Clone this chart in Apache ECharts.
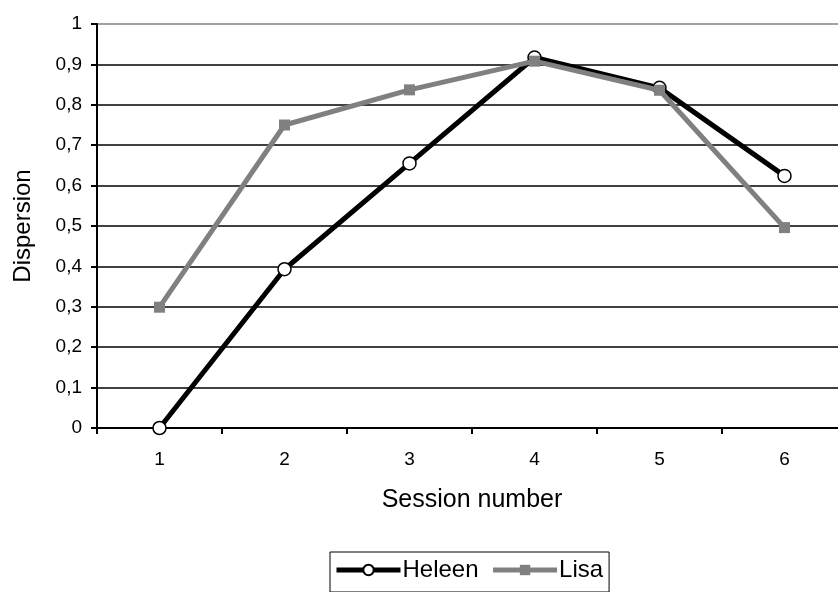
<!DOCTYPE html>
<html>
<head>
<meta charset="utf-8">
<script src="https://cdn.jsdelivr.net/npm/echarts@6/dist/echarts.min.js"></script>
<style>
html,body{margin:0;padding:0;background:#fff;}
#chart{width:838px;height:592px;}
</style>
</head>
<body>
<div id="chart"></div>
<script>
const categories = ['1', '2', '3', '4', '5', '6'];
const heleen = [0.0, 0.393, 0.655, 0.917, 0.842, 0.624];
const lisa = [0.299, 0.75, 0.837, 0.908, 0.836, 0.496];
const seriesNames = ['Heleen', 'Lisa'];
const xTitle = 'Session number';
const yTitle = 'Dispersion';

const FONT = 'Liberation Sans, Arial, sans-serif';
const splitColors = ['#000','#000','#000','#000','#000','#000','#000','#000','#000','#000','#808080'];

const chart = echarts.init(document.getElementById('chart'));
chart.setOption({
  animation: false,
  backgroundColor: '#fff',
  textStyle: { fontFamily: FONT },
  grid: { left: 97, top: 24, right: -9, height: 404, outerBoundsMode: 'none', containLabel: false },
  legend: {
    data: seriesNames,
    left: 330,
    top: 552,
    orient: 'horizontal',
    padding: [6, 6, 10, 4],
    itemGap: 12,
    itemWidth: 64,
    itemHeight: 13,
    borderColor: '#000',
    borderWidth: 1,
    lineStyle: { width: 5 },
    textStyle: { fontFamily: FONT, fontSize: 24, color: '#000', padding: [0, 0, 0, -3] }
  },
  xAxis: {
    type: 'category',
    data: categories,
    boundaryGap: true,
    name: xTitle,
    nameLocation: 'middle',
    nameGap: 60,
    nameTextStyle: { fontFamily: FONT, fontSize: 25, color: '#000' },
    axisLine: { lineStyle: { color: '#000', width: 2 } },
    axisTick: { show: true, length: 6, lineStyle: { color: '#000', width: 2 } },
    axisLabel: { fontFamily: FONT, fontSize: 19, color: '#000', margin: 22 },
    splitLine: { show: false }
  },
  yAxis: {
    type: 'value',
    min: 0,
    max: 1,
    interval: 0.1,
    name: yTitle,
    nameLocation: 'middle',
    nameGap: 62,
    nameTextStyle: { fontFamily: FONT, fontSize: 24, color: '#000' },
    axisLine: { show: true, lineStyle: { color: '#000', width: 2 } },
    axisTick: { show: true, length: 6, lineStyle: { color: '#000', width: 2 } },
    axisLabel: {
      fontFamily: FONT, fontSize: 19, color: '#000', margin: 15,
      formatter: v => (Math.round(v * 10) / 10).toString().replace('.', ',')
    },
    splitLine: { show: true, lineStyle: { color: splitColors, width: 1.5 } }
  },
  series: [
    {
      name: seriesNames[0],
      type: 'line',
      data: heleen,
      symbol: 'circle',
      symbolSize: 13,
      showAllSymbol: true,
      lineStyle: { color: '#000', width: 5 },
      itemStyle: { color: '#fff', borderColor: '#000', borderWidth: 1.5 },
      z: 2
    },
    {
      name: seriesNames[1],
      type: 'line',
      data: lisa,
      symbol: 'rect',
      symbolSize: 11,
      showAllSymbol: true,
      lineStyle: { color: '#808080', width: 5 },
      itemStyle: { color: '#808080', borderColor: '#808080', borderWidth: 0 },
      z: 3
    }
  ]
});
</script>
</body>
</html>
